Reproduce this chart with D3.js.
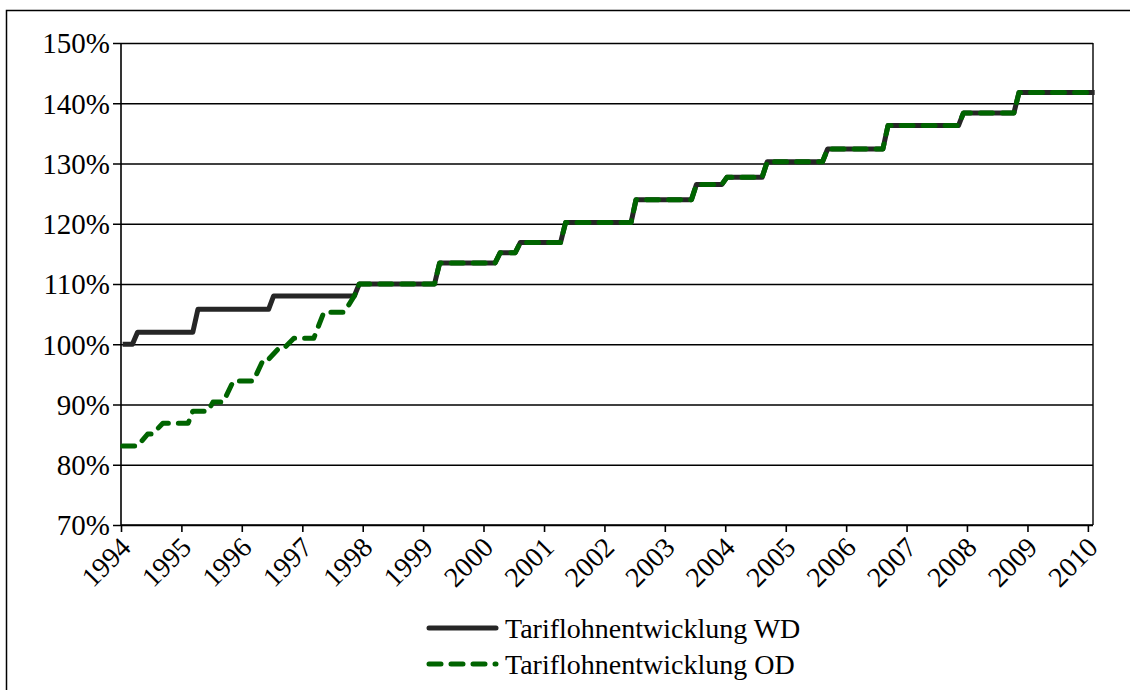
<!DOCTYPE html>
<html>
<head>
<meta charset="utf-8">
<script src="https://cdn.jsdelivr.net/npm/d3@7"></script>
<style>
  html, body { margin: 0; padding: 0; background: #fff; }
  svg { display: block; }
  text { font-family: "Liberation Serif", "Times New Roman", serif; fill: #000; }
</style>
</head>
<body>
<svg id="chart" width="1130" height="690"></svg>
<script>
// ---- data (monthly observations where the level changes) ----
const wdDates = ["1994-01","1994-03","1994-04","1995-03","1995-04","1996-06","1996-07","1997-11","1997-12",
  "1999-03","1999-04","2000-03","2000-04","2000-07","2000-08","2001-04","2001-05","2002-06","2002-07",
  "2003-06","2003-07","2003-12","2004-01","2004-08","2004-09","2005-08","2005-09","2006-08","2006-09",
  "2007-11","2007-12","2008-10","2008-11","2010-02"];
const wdValues = [100,100,102,102,105.8,105.8,108,108,110,
  110,113.5,113.5,115.2,115.2,116.9,116.9,120.2,120.2,124.0,
  124.0,126.5,126.5,127.7,127.7,130.3,130.3,132.4,132.4,136.3,
  136.3,138.4,138.4,141.8,141.8];

const odDates = ["1994-01","1994-04","1994-06","1994-07","1994-09","1995-02","1995-03","1995-06","1995-07",
  "1995-09","1995-11","1996-03","1996-05","1996-06","1996-08","1996-09","1996-11","1997-03","1997-05",
  "1997-09","1997-11","1997-12",
  "1999-03","1999-04","2000-03","2000-04","2000-07","2000-08","2001-04","2001-05","2002-06","2002-07",
  "2003-06","2003-07","2003-12","2004-01","2004-08","2004-09","2005-08","2005-09","2006-08","2006-09",
  "2007-11","2007-12","2008-10","2008-11","2010-02"];
const odValues = [83.1,83.1,85.1,85.1,86.9,86.9,88.9,88.9,90.4,
  90.4,93.9,93.9,97.5,97.5,99.3,99.3,101.0,101.0,105.3,
  105.3,108,110,
  110,113.5,113.5,115.2,115.2,116.9,116.9,120.2,120.2,124.0,
  124.0,126.5,126.5,127.7,127.7,130.3,130.3,132.4,132.4,136.3,
  136.3,138.4,138.4,141.8,141.8];

const obsDay = "11"; // observations sit a little after the start of each month on the date axis
const yTicks = [70,80,90,100,110,120,130,140,150];
const yearTicks = ["1994","1995","1996","1997","1998","1999","2000","2001","2002","2003","2004","2005","2006","2007","2008","2009","2010"];
const seriesNames = ["Tariflohnentwicklung WD","Tariflohnentwicklung OD"];
const seriesColors = ["#262626","#006400"];

// ---- layout ----
const svg = d3.select("#chart");
const pL = 121, pR = 1093, pT = 43, pB = 525;
const parseD = d3.timeParse("%Y-%m-%d");
const x = d3.scaleTime().domain([parseD("1994-01-01"), parseD("2010-02-01")]).range([pL, pR]);
const y = d3.scaleLinear().domain([70,150]).range([pB, pT]);
const FONT = "'Liberation Serif','Times New Roman',serif";

// outer frame (extends beyond the visible window)
svg.append("rect").attr("x",6.5).attr("y",10.5).attr("width",1200).attr("height",800)
  .attr("fill","none").attr("stroke","#000").attr("stroke-width",1.5);

// gridlines + y axis
const yAxis = d3.axisLeft(y).tickValues(yTicks).tickSize(-(pR-pL)).tickFormat(d => d + "%");
const gy = svg.append("g").attr("transform",`translate(${pL},0)`).call(yAxis);
gy.select(".domain").remove();
gy.selectAll(".tick line").attr("x1",-8).attr("stroke","#000").attr("stroke-width",1.4);
gy.selectAll(".tick text").attr("font-size",29).attr("x",-11).attr("dy","0.34em")
  .style("font-family",FONT);

// left axis line, right border
svg.append("line").attr("x1",pL).attr("x2",pL).attr("y1",pT).attr("y2",pB)
  .attr("stroke","#000").attr("stroke-width",1.6);
svg.append("line").attr("x1",pR).attr("x2",pR).attr("y1",pT).attr("y2",pB)
  .attr("stroke","#000").attr("stroke-width",1.4);

// x axis
const xAxis = d3.axisBottom(x).tickValues(yearTicks.map(t => parseD(t + "-01-01")))
  .tickSize(7).tickFormat(d3.timeFormat("%Y"));
const gx = svg.append("g").attr("transform",`translate(0,${pB})`).call(xAxis);
gx.select(".domain").attr("stroke","#000").attr("stroke-width",1.6).attr("d",`M${pL},0H${pR}`);
gx.selectAll(".tick line").attr("stroke","#000").attr("stroke-width",1.6);
gx.selectAll(".tick text").attr("font-size",28).style("font-family",FONT)
  .attr("text-anchor","end").attr("dy",0).attr("y",0)
  .attr("transform","translate(11,24) rotate(-45)");

// series
const line = d3.line().x(d => x(d[0])).y(d => y(d[1]));
const wdPts = wdDates.map((d,i) => [parseD(d + "-" + obsDay), wdValues[i]]);
const odPts = odDates.map((d,i) => [parseD(d + "-" + obsDay), odValues[i]]);

svg.append("path").attr("d", line(wdPts)).attr("fill","none")
  .attr("stroke",seriesColors[0]).attr("stroke-width",5).attr("stroke-linejoin","round").attr("stroke-linecap","butt");
svg.append("path").attr("d", line(odPts)).attr("fill","none")
  .attr("stroke",seriesColors[1]).attr("stroke-width",5).attr("stroke-linejoin","round")
  .attr("stroke-linecap","round").attr("stroke-dasharray","12,10");

// legend
const lg = svg.append("g");
[0,1].forEach(i => {
  const ly = 628 + i*36;
  lg.append("line").attr("x1",429).attr("x2",496).attr("y1",ly).attr("y2",ly)
    .attr("stroke",seriesColors[i]).attr("stroke-width",5).attr("stroke-linecap","round")
    .attr("stroke-dasharray", i === 1 ? "12,10" : null);
  lg.append("text").attr("x",505).attr("y",ly).attr("dy","0.34em").attr("font-size",28)
    .text(seriesNames[i]);
});
</script>
</body>
</html>
